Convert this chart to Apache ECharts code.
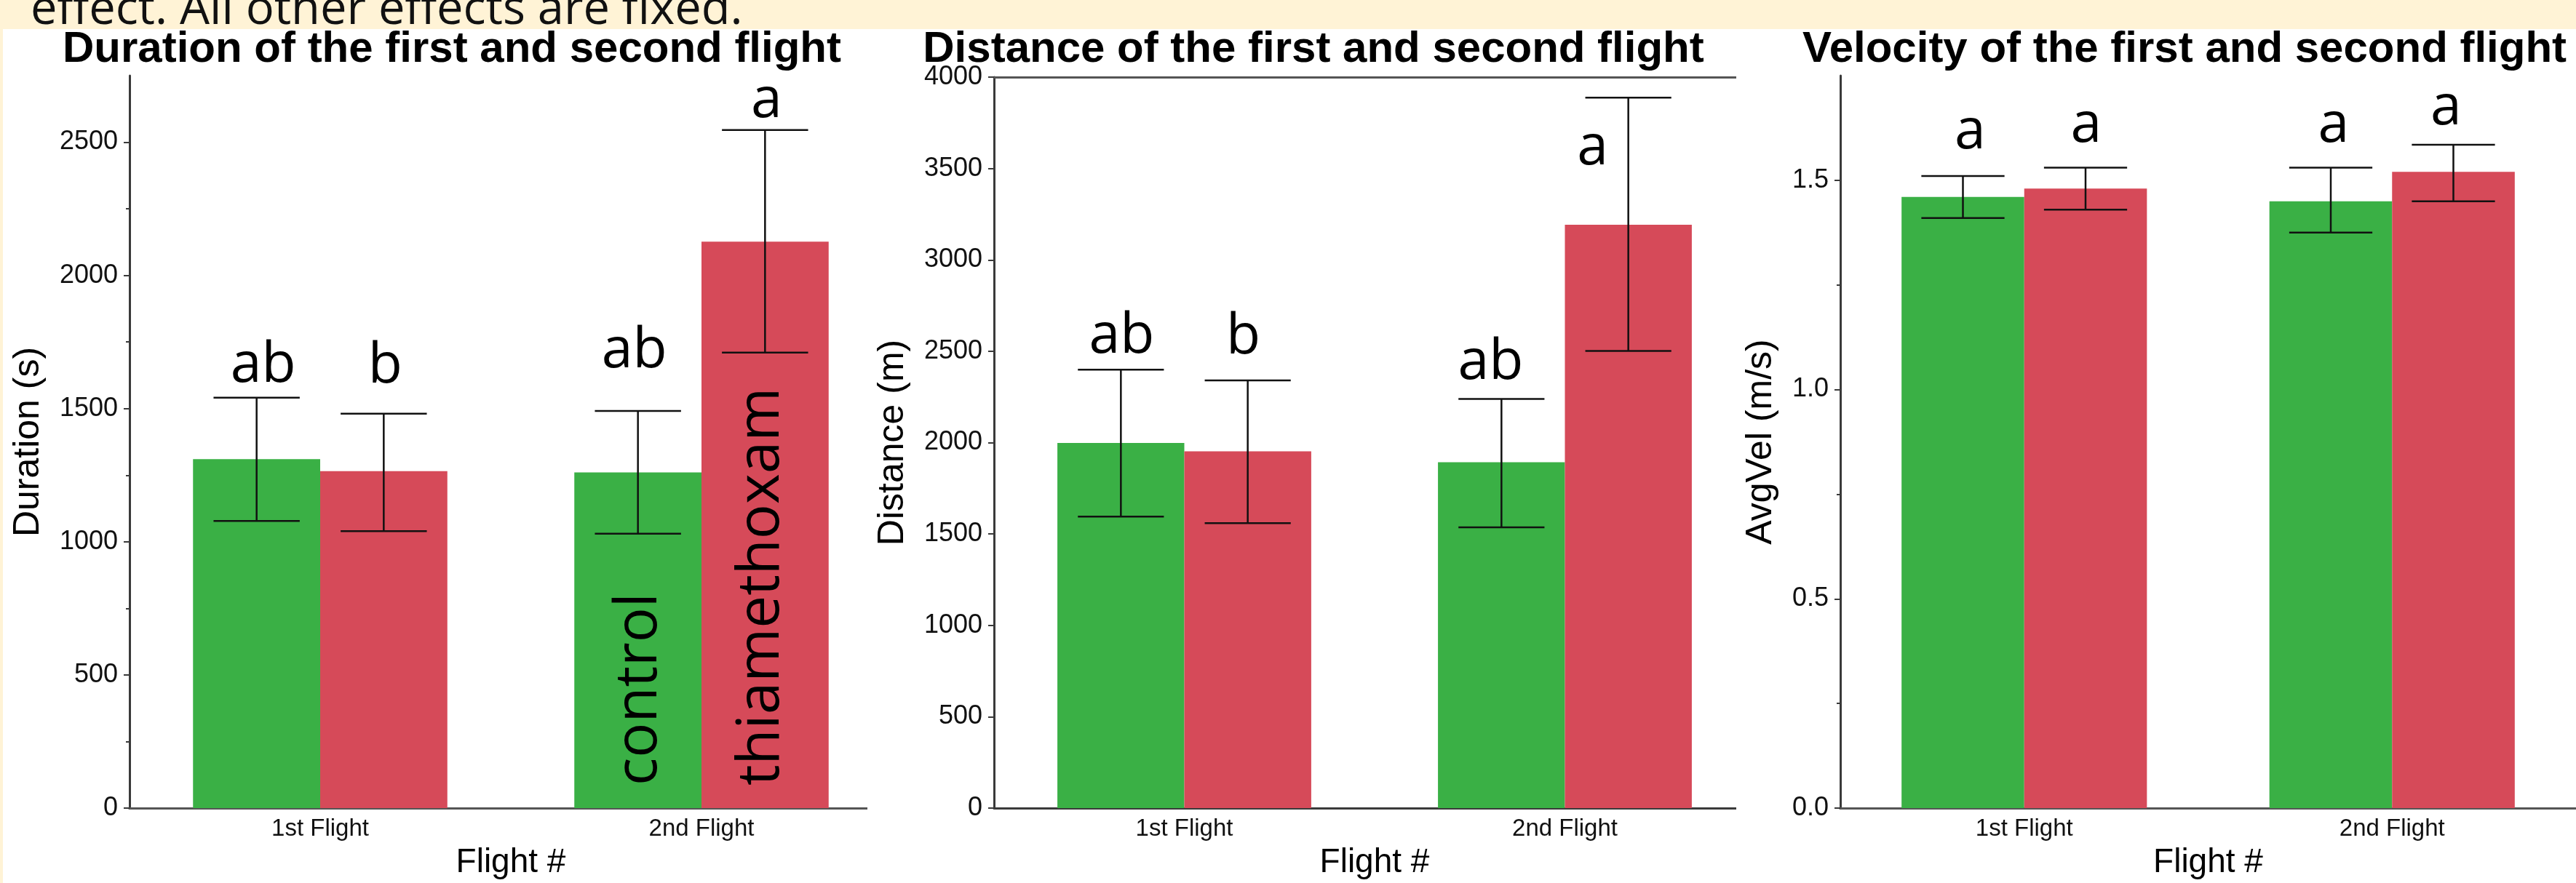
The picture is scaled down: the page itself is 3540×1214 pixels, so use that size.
<!DOCTYPE html>
<html>
<head>
<meta charset="utf-8">
<script src="https://cdn.jsdelivr.net/npm/echarts@6/dist/echarts.min.js"></script>
<style>
html,body{margin:0;padding:0;background:#fff;}
#c{width:3540px;height:1214px;}
</style>
</head>
<body>
<div id="c"></div>
<script>
// ---------------- data ----------------
const categories = ['1st Flight', '2nd Flight'];
const groups = ['control', 'thiamethoxam'];

// Duration (s)
const durControl      = [1310, 1260];
const durControlLow   = [1078, 1030];
const durControlHigh  = [1541, 1491];
const durThia         = [1265, 2127];
const durThiaLow      = [1040, 1710];
const durThiaHigh     = [1481, 2546];
const durLettersControl = ['ab', 'ab'];
const durLettersThia    = ['b', 'a'];
const durLetterAtControl = [1598, 1651];
const durLetterAtThia    = [1594, 2592];
const durTicks  = [0, 500, 1000, 1500, 2000, 2500];
const durMinor  = [250, 750, 1250, 1750, 2250];

// Distance (m)
const distControl      = [1998, 1893];
const distControlLow   = [1595, 1536];
const distControlHigh  = [2399, 2239];
const distThia         = [1952, 3192];
const distThiaLow      = [1559, 2501];
const distThiaHigh     = [2340, 3888];
const distLettersControl = ['ab', 'ab'];
const distLettersThia    = ['b', 'a'];
const distLetterAtControl = [2486, 2345];
const distLetterAtThia    = [2481, 3518];
const distTicks = [0, 500, 1000, 1500, 2000, 2500, 3000, 3500, 4000];

// Velocity (m/s)
const velControl      = [1.46, 1.45];
const velControlLow   = [1.41, 1.375];
const velControlHigh  = [1.51, 1.53];
const velThia         = [1.48, 1.52];
const velThiaLow      = [1.43, 1.45];
const velThiaHigh     = [1.53, 1.585];
const velLettersControl = ['a', 'a'];
const velLettersThia    = ['a', 'a'];
const velLetterAtControl = [1.575, 1.589];
const velLetterAtThia    = [1.589, 1.632];
const velTicks = [0, 0.5, 1.0, 1.5];
const velMinor = [0.25, 0.75, 1.25];

const titles = ['Duration of the first and second flight',
                'Distance of the first and second flight',
                'Velocity of the first and second flight'];
const yNames = ['Duration (s)', 'Distance (m)', 'AvgVel (m/s)'];
const xName = 'Flight #';
const headerText = 'effect. All other effects are fixed.';

// ---------------- style ----------------
const GREEN = '#3AB045';
const RED = '#D64A59';
const AXIS = '#3a3a3a';
const SANS = '"Liberation Sans", Arial, sans-serif';
const LETTER_FONT = '"Open Sans", sans-serif';
const LETTER_SIZE = 77;

// letter x nudges (px) per panel [control, thia] per category
const letterDx = {
  dur:  {c: [9, -5], t: [2, 2]},
  dist: {c: [1, -15], t: [-6, -49]},
  vel:  {c: [10, 4], t: [1, -10]}
};

function errRender(side, letters, dxArr) {
  return function (params, api) {
    const i = api.value(0);
    const lo = api.value(1), hi = api.value(2), ly = api.value(3);
    const band = api.size([1, 0])[0];
    const cx = api.coord([i, 0])[0] + side * band / 6;
    const yLo = api.coord([i, lo])[1];
    const yHi = api.coord([i, hi])[1];
    const yL = api.coord([i, ly])[1];
    const cap = band * 0.113;
    const ls = {stroke: '#111', lineWidth: 2.5};
    return {
      type: 'group',
      children: [
        {type: 'line', shape: {x1: cx, y1: yLo, x2: cx, y2: yHi}, style: ls},
        {type: 'line', shape: {x1: cx - cap, y1: yLo, x2: cx + cap, y2: yLo}, style: ls},
        {type: 'line', shape: {x1: cx - cap, y1: yHi, x2: cx + cap, y2: yHi}, style: ls},
        {type: 'text', x: cx + dxArr[i], y: yL + LETTER_SIZE * 0.2,
         style: {text: letters[i], fill: '#000', fontSize: LETTER_SIZE, fontFamily: LETTER_FONT,
                 align: 'center', verticalAlign: 'bottom'}}
      ]
    };
  };
}

function errData(lo, hi, at) {
  return categories.map((c, i) => [i, lo[i], hi[i], at[i]]);
}

const gridDefs = [
  {left: 178,  top: 104, width: 1048, height: 1007},
  {left: 1366, top: 106, width: 1046, height: 1009},
  {left: 2529, top: 104, width: 1078, height: 1007}
];

const xAxes = [];
gridDefs.forEach((g, gi) => {
  xAxes.push({
    gridIndex: gi, type: 'category', data: categories, position: 'bottom',
    axisLine: {lineStyle: {color: AXIS, width: 3}},
    axisTick: {show: false},
    axisLabel: {color: '#111', fontFamily: SANS, fontSize: 33, margin: 12},
    name: xName, nameLocation: 'middle', nameGap: 52,
    nameTextStyle: {color: '#000', fontFamily: SANS, fontSize: 46}
  });
  xAxes.push({
    gridIndex: gi, type: 'category', data: categories, position: 'top',
    axisLine: {lineStyle: {color: '#555', width: 3}},
    axisTick: {show: false}, axisLabel: {show: false}
  });
});

function mainY(gi, max, ticks, name, gap, fmt) {
  return {
    gridIndex: gi, type: 'value', min: 0, max: max,
    axisLine: {show: true, lineStyle: {color: AXIS, width: 3}},
    axisTick: {show: true, customValues: ticks, length: 8, lineStyle: {color: AXIS, width: 2}},
    axisLabel: {customValues: ticks, color: '#111', fontFamily: SANS, fontSize: 36, margin: 16,
                formatter: fmt || (v => String(v))},
    splitLine: {show: false},
    name: name, nameLocation: 'middle', nameGap: gap,
    nameTextStyle: {color: '#000', fontFamily: SANS, fontSize: 50}
  };
}
function minorY(gi, max, ticks) {
  return {
    gridIndex: gi, type: 'value', min: 0, max: max, position: 'left',
    axisLine: {show: false},
    axisTick: {show: true, customValues: ticks, length: 5, lineStyle: {color: AXIS, width: 2}},
    axisLabel: {show: false}, splitLine: {show: false}
  };
}

const yAxes = [
  mainY(0, 2750, durTicks, yNames[0], 114),
  minorY(0, 2750, durMinor),
  mainY(1, 4000, distTicks, yNames[1], 114),
  mainY(2, 1.75, velTicks, yNames[2], 84, v => Number(v).toFixed(1)),
  minorY(2, 1.75, velMinor)
];

function barPair(xi, yi, cVals, tVals) {
  return [
    {type: 'bar', name: groups[0], xAxisIndex: xi, yAxisIndex: yi, data: cVals,
     barCategoryGap: '33.3%', barGap: '0%', itemStyle: {color: GREEN}, z: 2},
    {type: 'bar', name: groups[1], xAxisIndex: xi, yAxisIndex: yi, data: tVals,
     barCategoryGap: '33.3%', barGap: '0%', itemStyle: {color: RED}, z: 2}
  ];
}
function errPair(xi, yi, cLo, cHi, cAt, cLet, tLo, tHi, tAt, tLet, dx) {
  return [
    {type: 'custom', xAxisIndex: xi, yAxisIndex: yi, z: 5, clip: false,
     renderItem: errRender(-1, cLet, dx.c), data: errData(cLo, cHi, cAt)},
    {type: 'custom', xAxisIndex: xi, yAxisIndex: yi, z: 5, clip: false,
     renderItem: errRender(1, tLet, dx.t), data: errData(tLo, tHi, tAt)}
  ];
}

const series = [].concat(
  barPair(0, 0, durControl, durThia),
  errPair(0, 0, durControlLow, durControlHigh, durLetterAtControl, durLettersControl,
          durThiaLow, durThiaHigh, durLetterAtThia, durLettersThia, letterDx.dur),
  barPair(2, 2, distControl, distThia),
  errPair(2, 2, distControlLow, distControlHigh, distLetterAtControl, distLettersControl,
          distThiaLow, distThiaHigh, distLetterAtThia, distLettersThia, letterDx.dist),
  barPair(4, 3, velControl, velThia),
  errPair(4, 3, velControlLow, velControlHigh, velLetterAtControl, velLettersControl,
          velThiaLow, velThiaHigh, velLetterAtThia, velLettersThia, letterDx.vel)
);

const titleCenters = [621, 1805, 3002];
const title = titles.map((t, i) => ({
  text: t, left: titleCenters[i], top: 38, textAlign: 'center', padding: 0,
  textStyle: {color: '#000', fontFamily: SANS, fontWeight: 'bold', fontSize: 60}
}));

const graphic = [
  {type: 'rect', z: 100, shape: {x: 0, y: 0, width: 3540, height: 40}, style: {fill: '#FFF3D6'}},
  {type: 'rect', z: 100, shape: {x: 0, y: 0, width: 4, height: 1214}, style: {fill: '#FFF3D6'}},
  {type: 'text', z: 101, x: 42, y: 47, style: {text: headerText, fill: '#111',
    fontSize: 65, fontFamily: '"Open Sans", sans-serif', align: 'left', verticalAlign: 'bottom'}},
  // panels overlap: the next panel's white background hides the previous axis lines
  {type: 'rect', z: 100, shape: {x: 1192, y: 92, width: 40, height: 26}, style: {fill: '#fff'}},
  {type: 'rect', z: 100, shape: {x: 1192, y: 1100, width: 40, height: 22}, style: {fill: '#fff'}},
  {type: 'rect', z: 100, shape: {x: 2386, y: 92, width: 30, height: 26}, style: {fill: '#fff'}},
  {type: 'rect', z: 100, shape: {x: 2386, y: 1100, width: 30, height: 22}, style: {fill: '#fff'}},
  // group labels written inside the 2nd-flight bars
  {type: 'text', z: 60, x: 879, y: 1080, rotation: Math.PI / 2,
   style: {text: groups[0], fill: '#000', fontSize: 80, fontFamily: LETTER_FONT, align: 'left', verticalAlign: 'middle'}},
  {type: 'text', z: 60, x: 1047, y: 1080, rotation: Math.PI / 2,
   style: {text: groups[1], fill: '#000', fontSize: 80, fontFamily: LETTER_FONT, align: 'left', verticalAlign: 'middle'}}
];

const chart = echarts.init(document.getElementById('c'), null, {renderer: 'canvas'});
chart.setOption({
  animation: false,
  backgroundColor: '#fff',
  title: title,
  grid: gridDefs,
  xAxis: xAxes,
  yAxis: yAxes,
  series: series,
  graphic: graphic
});
</script>
</body>
</html>
